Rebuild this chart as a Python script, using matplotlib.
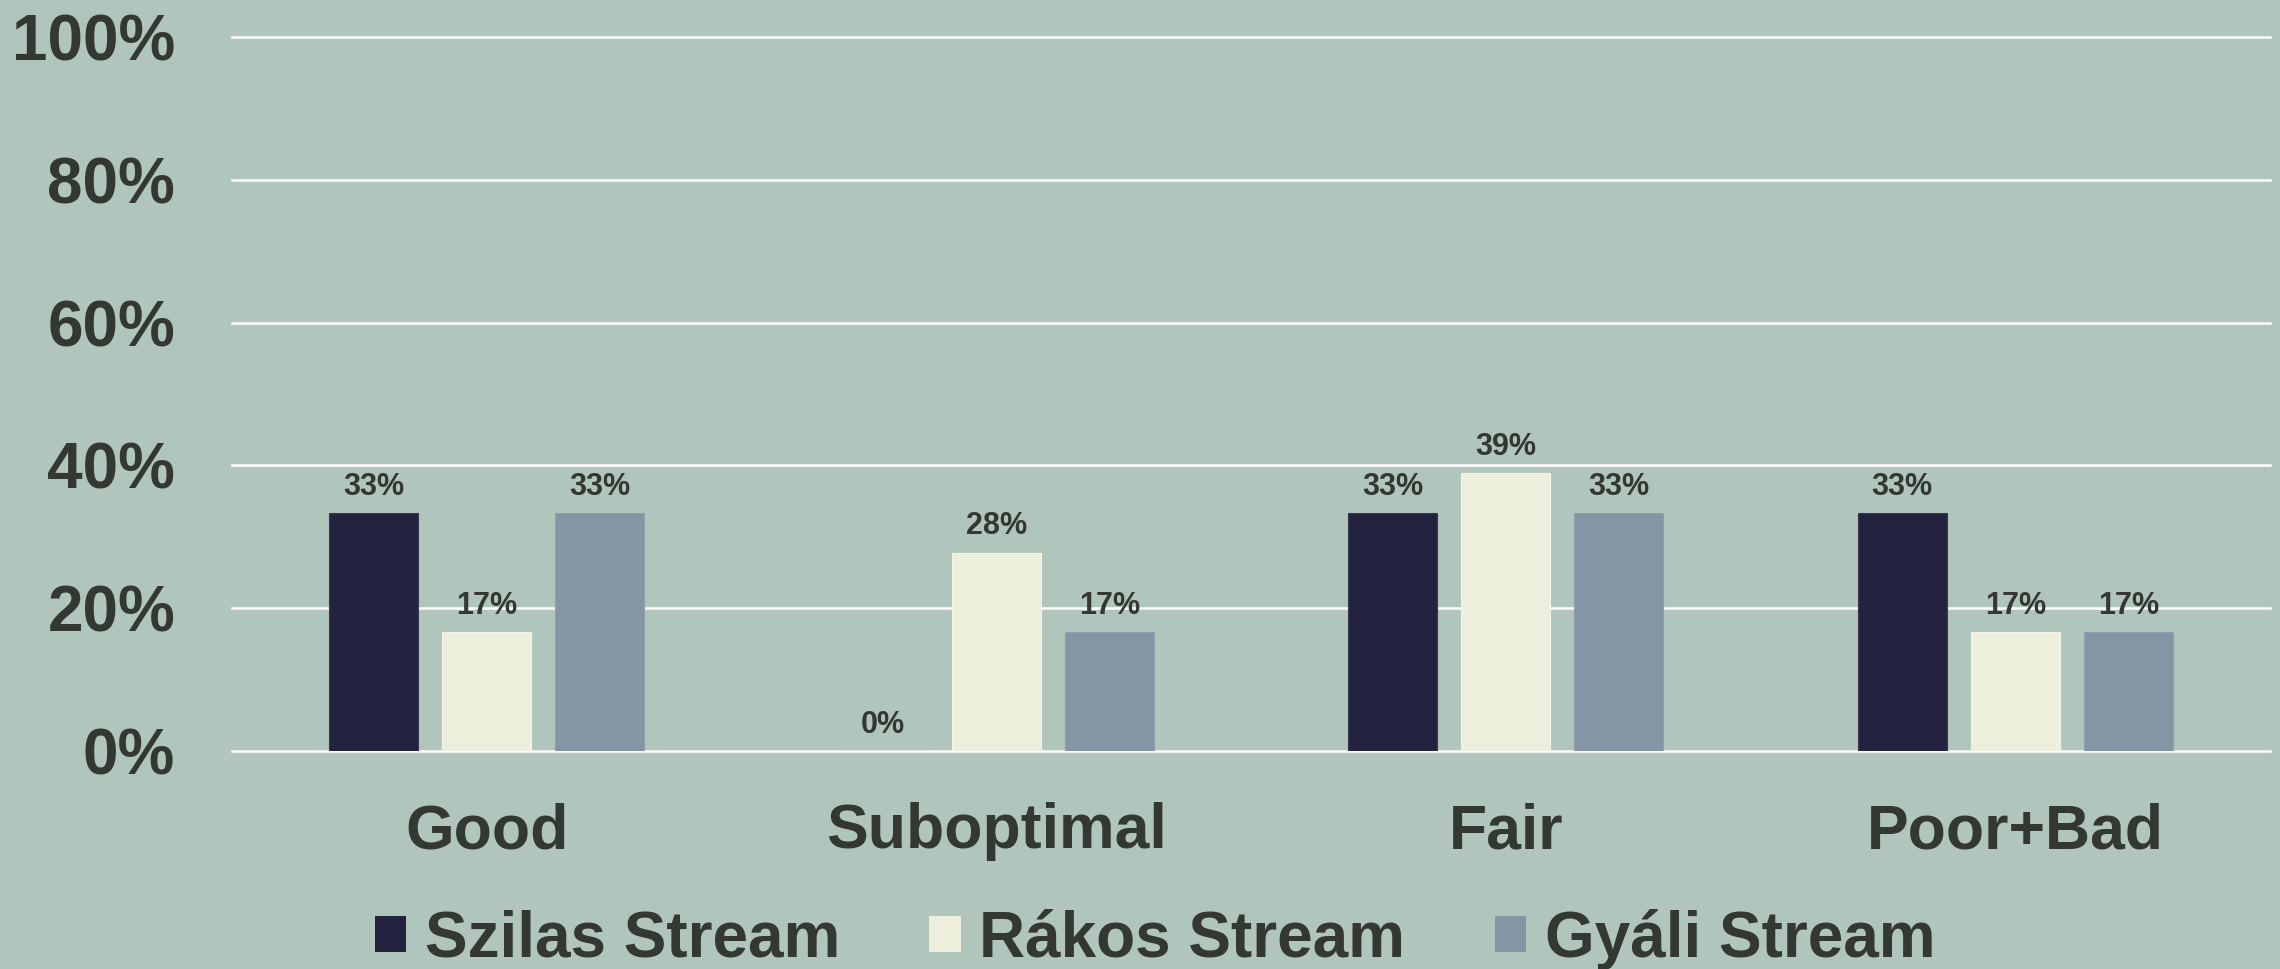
import matplotlib
matplotlib.use("Agg")
import matplotlib.pyplot as plt
import numpy as np
from matplotlib.patches import Patch

categories = ["Good", "Suboptimal", "Fair", "Poor+Bad"]
series_names = ["Szilas Stream", "Rákos Stream", "Gyáli Stream"]
szilas = [33.3, 0.0, 33.3, 33.3]
rakos = [16.7, 27.8, 38.9, 16.7]
gyali = [33.3, 16.7, 33.3, 16.7]
yticks = [0, 20, 40, 60, 80, 100]
ytick_labels = ["0%", "20%", "40%", "60%", "80%", "100%"]

colors = ["#232340", "#EDEEDC", "#8495A5"]
edge_colors = ["#3a3a55", "#f4f5e8", "#90a0b0"]
bg = "#B0C5BC"
txt = "#333833"

plt.rcParams['font.family'] = ['Liberation Sans', 'DejaVu Sans']
plt.rcParams['font.weight'] = 'bold'

fig = plt.figure(figsize=(22.8, 9.69), dpi=100, facecolor=bg)
ax = fig.add_axes([232/2280, 1-751/969, (2270-232)/2280, (751-37)/969])
ax.set_facecolor(bg)

x = np.arange(len(categories))
width = 0.1747
step = 0.2218
data = [szilas, rakos, gyali]
for i, (vals, name) in enumerate(zip(data, series_names)):
    pos = x + (i - 1) * step
    ax.bar(pos, vals, width, color=colors[i], edgecolor=edge_colors[i],
           linewidth=0.8, label=name, zorder=3)
    for xp, v in zip(pos, vals):
        ax.annotate(f"{v:.0f}%", (xp, v), xytext=(0, 13), textcoords="offset points",
                    ha="center", va="baseline", fontsize=22, fontweight="bold",
                    color=txt, zorder=4)

ax.set_xlim(-0.5, len(categories) - 0.5)
ax.set_ylim(0, 100)
ax.set_yticks(yticks)
ax.set_yticklabels(ytick_labels)
ax.set_xticks(x)
ax.set_xticklabels(categories)
ax.yaxis.grid(True, color="white", linewidth=1.8, zorder=0)
ax.set_axisbelow(True)
for gl in ax.get_ygridlines():
    gl.set_clip_on(False)
for s in ax.spines.values():
    s.set_visible(False)
ax.tick_params(axis="both", length=0, colors=txt)
ax.tick_params(axis="y", labelsize=46, pad=41)
ax.tick_params(axis="x", labelsize=45, pad=37)
for lab in ax.get_xticklabels() + ax.get_yticklabels():
    lab.set_fontweight("bold")
    lab.set_color(txt)
for lab in ax.get_yticklabels():
    lab.set_clip_on(False)

handles = [Patch(facecolor=c, edgecolor="none") for c in colors]
leg = fig.legend(handles, series_names, loc="center", bbox_to_anchor=(1155/2280, 1-939/969),
                 ncol=3, frameon=False, fontsize=46, handlelength=0.49, handleheight=0.49,
                 handletextpad=0.29, columnspacing=1.4, borderaxespad=0, borderpad=0)
for t in leg.get_texts():
    t.set_color(txt)
    t.set_fontweight("bold")

fig.savefig("out.png", dpi=100, facecolor=bg)
